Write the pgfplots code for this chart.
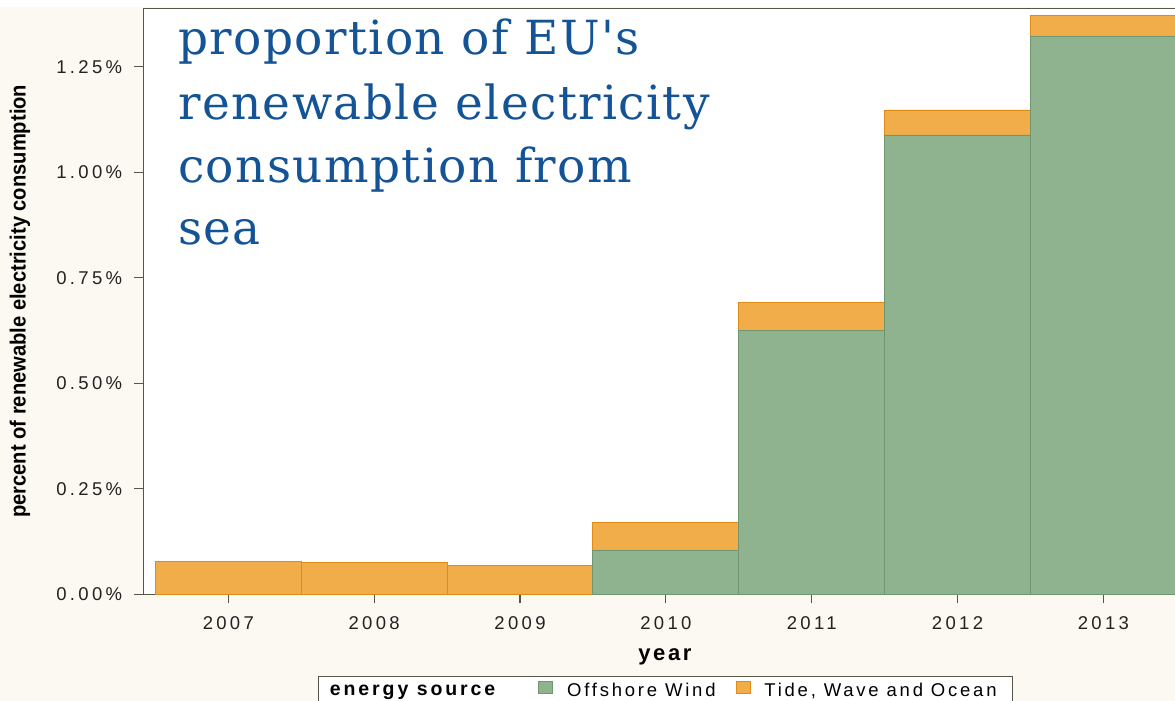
\documentclass[border=0pt]{standalone}
\usepackage{fontspec}
\usepackage{graphicx}
\usepackage{pgfplots}
\pgfplotsset{compat=1.18}
\setmainfont{Liberation Sans}
\newfontfamily\tickfont[LetterSpace=18]{Liberation Sans}
\newfontfamily\legfont[LetterSpace=15]{Liberation Sans}
\newfontfamily\yearfont[LetterSpace=12]{Liberation Sans}
\newfontfamily\titlefont[LetterSpace=3]{DejaVu Serif}
\definecolor{greenfill}{HTML}{8EB38E}
\definecolor{greenedge}{HTML}{6F966F}
\definecolor{orangefill}{HTML}{F0AD4A}
\definecolor{orangeedge}{HTML}{E08C14}
\definecolor{cream}{HTML}{FCF9F2}
\definecolor{framecol}{HTML}{55554B}
\definecolor{labelcol}{HTML}{222222}
\definecolor{titlecol}{HTML}{145496}
\begin{document}
\begin{tikzpicture}[x=1pt,y=1pt]
\useasboundingbox (0,0) rectangle (1175,701);
\clip (0,0) rectangle (1175,701);
\fill[cream] (0,0) rectangle (1175,694);
\fill[white] (0,694) rectangle (1175,701);
\begin{axis}[
  at={(143.3pt,106.7pt)}, anchor=south west,
  scale only axis, width=1106pt, height=586pt,
  xmin=-0.583, xmax=7.0, ymin=0, ymax=1.3886,
  ybar stacked, bar width=1,
  axis background/.style={fill=white},
  axis line style={draw=framecol, line width=1.3pt},
  tick align=outside, tick pos=left, major tick length=9pt,
  tick style={draw=framecol, line width=1.1pt},
  xtick={0,1,2,3,4,5,6},
  xticklabels={2007,2008,2009,2010,2011,2012,2013},
  ytick={0,0.25,0.5,0.75,1,1.25},
  yticklabels={0.00\%,0.25\%,0.50\%,0.75\%,1.00\%,1.25\%},
  ticklabel style={font=\tickfont\fontsize{18.5}{22}\selectfont, text=labelcol, inner sep=0pt},
  xticklabel style={anchor=north, yshift=-13pt},
  yticklabel style={anchor=east, xshift=-12pt},
  xlabel={year},
  ylabel={\resizebox{433pt}{\height}{\fontsize{22}{24}\selectfont\bfseries percent of renewable electricity consumption}},
  every axis x label/.style={at={(axis description cs:0.4717,0)}, anchor=base, yshift=-66.4pt, font=\yearfont\bfseries\fontsize{22}{24}\selectfont, text=black, inner sep=0pt},
  every axis y label/.style={at={(axis description cs:0,0.5)}, xshift=-123.3pt, rotate=90, anchor=center, text=black, inner sep=0pt},
  legend style={at={(0.1582,-0.1394)}, anchor=north west, draw=framecol, line width=1.2pt, fill=white,
    font=\legfont\fontsize{18.5}{22}\selectfont, inner xsep=14pt, inner ysep=4pt,
    /tikz/every odd column/.append style={column sep=12pt},
    /tikz/every even column/.append style={column sep=18pt}},
  legend columns=3,
  legend cell align=left,
]
\addlegendimage{empty legend}
\addlegendentry{\hspace*{-17pt}\bfseries\fontsize{19.5}{22}\selectfont energy source\hspace*{23pt}}
\addplot[fill=greenfill, draw=greenedge, line width=0.9pt,
  legend image code/.code={\draw[fill=greenfill,draw=greenedge,line width=0.8pt] (0pt,-2pt) rectangle (14pt,10pt);}]
  coordinates {(0,0) (1,0) (2,0) (3,0.1033) (4,0.6246) (5,1.0884) (6,1.3230)};
\addlegendentry{Offshore Wind}
\addplot[fill=orangefill, draw=orangeedge, line width=0.9pt,
  legend image code/.code={\draw[fill=orangefill,draw=orangeedge,line width=0.8pt] (0pt,-2pt) rectangle (14pt,10pt);}]
  coordinates {(0,0.0789) (1,0.0749) (2,0.0678) (3,0.0664) (4,0.0664) (5,0.0592) (6,0.0480)};
\addlegendentry{Tide, Wave and Ocean}
\end{axis}
\begin{scope}[every node/.style={anchor=base west, inner sep=0pt, text=titlecol, font=\titlefont\fontsize{47}{52}\selectfont}]
\node at (178,646) {proportion of EU's};
\node at (178,581) {renewable electricity};
\node at (178,518) {consumption from};
\node at (178,456) {sea};
\end{scope}
\end{tikzpicture}
\end{document}
